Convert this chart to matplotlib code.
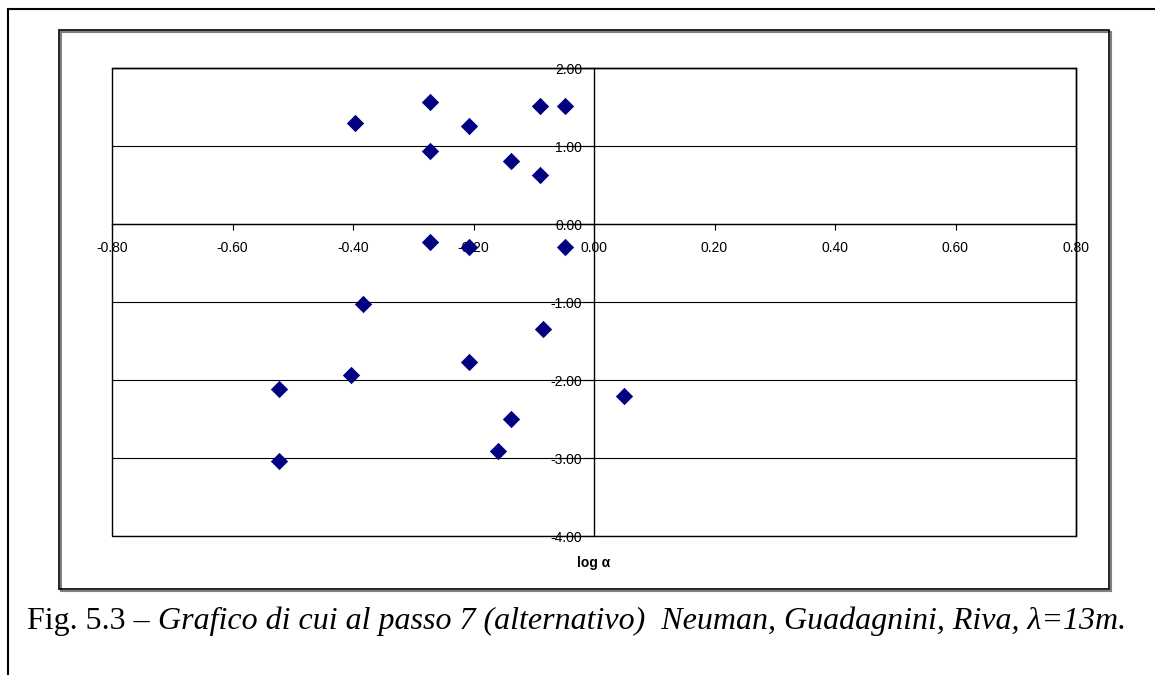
import matplotlib
matplotlib.use("Agg")
import matplotlib.pyplot as plt
from matplotlib.patches import Rectangle
from matplotlib.lines import Line2D

# data
log_alpha = [-0.272, -0.397, -0.207, -0.090, -0.048, -0.272, -0.137, -0.090,
             -0.272, -0.207, -0.048,
             -0.383, -0.084, -0.208, -0.403, -0.523, 0.049, -0.137, -0.159, -0.523]
y_vals = [1.57, 1.29, 1.26, 1.51, 1.51, 0.94, 0.81, 0.63,
          -0.23, -0.29, -0.29,
          -1.02, -1.34, -1.77, -1.94, -2.12, -2.21, -2.50, -2.91, -3.04]
x_ticks = [-0.8, -0.6, -0.4, -0.2, 0.0, 0.2, 0.4, 0.6, 0.8]
y_ticks = [-4, -3, -2, -1, 0, 1, 2]
caption_head = "Fig. 5.3 – "
caption_tail = "Grafico di cui al passo 7 (alternativo)  Neuman, Guadagnini, Riva, λ=13m."

plt.rcParams['font.family'] = ['Liberation Sans', 'DejaVu Sans']
plt.rcParams['axes.unicode_minus'] = False

fig = plt.figure(figsize=(11.55, 6.75), dpi=100)
ax = fig.add_axes([112 / 1155, 1 - 536 / 675, 964 / 1155, 468 / 675])

ax.scatter(log_alpha, y_vals, marker="D", s=78, color="#000080", zorder=3, linewidths=0)

ax.set_xlim(-0.8, 0.8)
ax.set_ylim(-4, 2)
ax.set_xticks(x_ticks)
ax.set_yticks(y_ticks)
ax.set_xticklabels([f"{v:.2f}" for v in x_ticks])
ax.set_yticklabels([f"{v:.2f}" for v in y_ticks])

# axes cross at origin, like the spreadsheet chart
ax.spines['left'].set_position(('data', 0))
ax.spines['bottom'].set_position(('data', 0))
for s in ax.spines.values():
    s.set_linewidth(1.0)
    s.set_color("black")

ax.tick_params(axis='x', direction='out', length=4, width=0.8, pad=8.0, labelsize=10)
# long y ticks run through the labels, as in the original
ax.tick_params(axis='y', direction='out', length=29, width=0.8, pad=-20.5, labelsize=10)
for lbl in ax.get_yticklabels():
    lbl.set_y(lbl.get_position()[1])

ax.yaxis.grid(True, color="black", linewidth=0.8)
ax.set_axisbelow(True)

# plot area border
ax.add_patch(Rectangle((0, 0), 1, 1, transform=ax.transAxes, fill=False,
                       edgecolor="black", linewidth=1.0, clip_on=False, zorder=4))

fig.text(594 / 1155, 1 - 563 / 675, "log α", ha="center", va="center",
         fontsize=10, fontweight="bold")

# chart area box with light shadow
fig.patches.append(Rectangle((60.5 / 1155, 1 - 590.5 / 675), 1050 / 1155, 559 / 675,
                             transform=fig.transFigure, fill=False,
                             edgecolor="#808080", linewidth=1.5))
fig.patches.append(Rectangle((59 / 1155, 1 - 589 / 675), 1050 / 1155, 559 / 675,
                             transform=fig.transFigure, fill=True, facecolor="none",
                             edgecolor="black", linewidth=1.2))

# page frame
fig.lines.append(Line2D([7.5 / 1155, 7.5 / 1155], [0, 1 - 9 / 675],
                        transform=fig.transFigure, color="black", linewidth=1.5))
fig.lines.append(Line2D([7.5 / 1155, 1], [1 - 9 / 675, 1 - 9 / 675],
                        transform=fig.transFigure, color="black", linewidth=1.5))

# caption: upright prefix, italic remainder
head = fig.text(27 / 1155, 1 - 629 / 675, caption_head, ha="left", va="baseline",
                fontsize=23, family="Liberation Serif")
fig.canvas.draw()
bb = head.get_window_extent()
fig.text(bb.x1 / fig.bbox.width, 1 - 629 / 675, caption_tail, ha="left", va="baseline",
         fontsize=23, family="Liberation Serif", style="italic")

fig.savefig("out.png", dpi=100)
